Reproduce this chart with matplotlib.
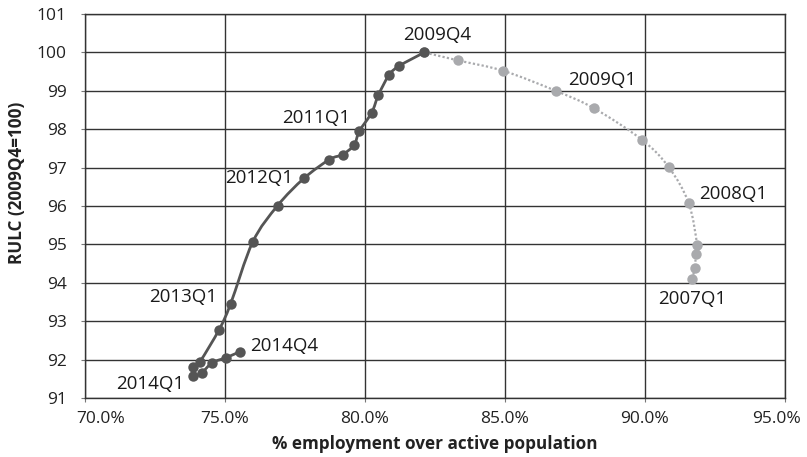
import numpy as np
import matplotlib
matplotlib.use("Agg")
import matplotlib.pyplot as plt
from matplotlib.path import Path
from matplotlib.patches import PathPatch
from matplotlib.ticker import FuncFormatter
from matplotlib.transforms import ScaledTranslation

plt.rcParams['font.family'] = ['Open Sans', 'DejaVu Sans']

# Pre-crisis path, 2007Q1 -> 2009Q4
pre_emp = [91.67, 91.79, 91.81, 91.86, 91.56, 90.85, 89.90, 88.19, 86.81, 84.94, 83.33, 82.12]
pre_rulc = [94.10, 94.39, 94.76, 94.99, 96.08, 97.01, 97.72, 98.54, 99.00, 99.52, 99.79, 100.0]
pre_labels = {0: "2007Q1", 4: "2008Q1", 8: "2009Q1"}

# Adjustment path, 2009Q4 -> 2014Q4
post_emp = [82.12, 81.23, 80.86, 80.48, 80.24, 79.80, 79.61, 79.20, 78.73, 77.82, 76.88,
            75.99, 75.20, 74.79, 74.11, 73.87, 73.87, 74.17, 74.55, 75.04, 75.54]
post_rulc = [100.0, 99.65, 99.41, 98.89, 98.43, 97.95, 97.59, 97.34, 97.21, 96.72, 96.01,
             95.06, 93.45, 92.78, 91.95, 91.80, 91.56, 91.66, 91.92, 92.05, 92.21]
post_labels = {0: "2009Q4", 5: "2011Q1", 9: "2012Q1", 12: "2013Q1", 16: "2014Q1", 20: "2014Q4"}

x_ticks = [70, 75, 80, 85, 90, 95]
y_ticks = list(range(91, 102))

DARK = "#555555"
LIGHT = "#a9aaad"
GRID = "#333333"


def smooth_path(xs, ys):
    """Catmull-Rom curve through the points, expressed as cubic Bezier segments."""
    p = np.column_stack([xs, ys]).astype(float)
    ext = np.vstack([p[0], p, p[-1]])
    verts = [tuple(p[0])]
    codes = [Path.MOVETO]
    for i in range(1, len(ext) - 2):
        p0, p1, p2, p3 = ext[i - 1], ext[i], ext[i + 1], ext[i + 2]
        c1 = p1 + (p2 - p0) / 6.0
        c2 = p2 - (p3 - p1) / 6.0
        verts += [tuple(c1), tuple(c2), tuple(p2)]
        codes += [Path.CURVE4] * 3
    return Path(verts, codes)


fig = plt.figure(figsize=(8.07, 4.57), dpi=100)
ax = fig.add_axes([0.1053, 0.1291, 0.8674, 0.8403])

ax.set_xlim(70, 95)
ax.set_ylim(91, 101)
ax.set_xticks(x_ticks)
ax.set_yticks(y_ticks)
ax.xaxis.set_major_formatter(FuncFormatter(lambda v, _: f"{v:.1f}%"))
ax.grid(True, color=GRID, lw=1.0)
ax.set_axisbelow(True)
for s in ax.spines.values():
    s.set_color(GRID)
    s.set_linewidth(1.0)
ax.tick_params(axis='both', direction='out', length=3, width=0.8, color="#777777",
               labelsize=12.5, labelcolor="#222222")
ax.tick_params(axis='y', pad=10)
ax.tick_params(axis='x', pad=6)

# keep the outermost percentage labels inside the frame
fig.canvas.draw()
xlabels = ax.get_xticklabels()
xlabels[0].set_transform(xlabels[0].get_transform() + ScaledTranslation(16 / 100, 0, fig.dpi_scale_trans))
xlabels[-1].set_transform(xlabels[-1].get_transform() + ScaledTranslation(-8 / 100, 0, fig.dpi_scale_trans))

# dotted pre-crisis trajectory
ax.add_patch(PathPatch(smooth_path(pre_emp, pre_rulc), fill=False, ec=LIGHT, lw=1.6,
                       ls=(0, (1, 1)), capstyle='butt', zorder=3))
ax.plot(pre_emp, pre_rulc, ls='none', marker='o', ms=7.5, color=LIGHT, mec='none', zorder=4)

# solid adjustment trajectory
ax.add_patch(PathPatch(smooth_path(post_emp, post_rulc), fill=False, ec=DARK, lw=2.0,
                       zorder=5))
ax.plot(post_emp, post_rulc, ls='none', marker='o', ms=7.5, color=DARK, mec='none', zorder=6)

label_kw = dict(textcoords='offset pixels', fontsize=13.5, color="#1a1a1a", zorder=7)
offsets_pre = {0: ((0, -20), 'center', 'center'),
               4: ((10, 9), 'left', 'center'),
               8: ((12, 11), 'left', 'center')}
for i, txt in pre_labels.items():
    (dx, dy), ha, va = offsets_pre[i]
    ax.annotate(txt, (pre_emp[i], pre_rulc[i]), xytext=(dx, dy), ha=ha, va=va, **label_kw)

offsets_post = {0: ((13, 17), 'center', 'center'),
                5: ((-9, 13), 'right', 'center'),
                9: ((-11, 0), 'right', 'center'),
                12: ((-13, 7), 'right', 'center'),
                16: ((-9, -8), 'right', 'center'),
                20: ((10, 6), 'left', 'center')}
for i, txt in post_labels.items():
    (dx, dy), ha, va = offsets_post[i]
    ax.annotate(txt, (post_emp[i], post_rulc[i]), xytext=(dx, dy), ha=ha, va=va, **label_kw)

ax.set_xlabel("% employment over active population", fontsize=12.3, fontweight='bold',
              color="#222222", labelpad=6)
fig.text(0.021, 1 - 183 / 457, "RULC (2009Q4=100)", rotation=90, ha='center', va='center',
         fontsize=12.3, fontweight='bold', color="#222222")

fig.savefig("out.png", dpi=100)
